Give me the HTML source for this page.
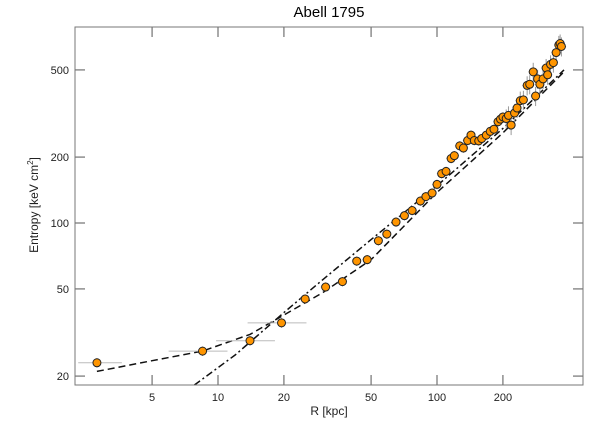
<!DOCTYPE html>
<html><head><meta charset="utf-8"><style>
body{margin:0;background:#fff;}
svg{display:block;font-family:"Liberation Sans",sans-serif;}
</style></head><body>
<svg id="chart" width="605" height="432">
<text x="329" y="17" text-anchor="middle" font-size="15">Abell 1795</text>
<text x="329" y="415" text-anchor="middle" font-size="12" fill="#222">R [kpc]</text>
<text transform="translate(38,205) rotate(-90)" text-anchor="middle" font-size="12" fill="#222">Entropy [keV cm<tspan dy="-5" font-size="8">2</tspan><tspan dy="5">]</tspan></text>
<g id="grid"></g>
<g id="curves"></g>
<g id="errs"></g>
<g id="pts"></g>
<rect x="75" y="27" width="508" height="358" fill="none" stroke="#777" stroke-width="1"/>
</svg>
<script>
const xTicks=[5,10,20,50,100,200];
const yTicks=[20,50,100,200,500];
const radii=[2.8,8.5,14,19.5,25,31,37,43,48,54,59,65,71,77,84,89,95,100,105,110,116,120,127,132,138,143,148,155,160,168,175,182,190,195,200,207,212,218,226,232,240,248,258,265,275,282,288,295,305,315,320,330,340,350,360,365,370];
const entropy=[23,26,29,35,45,51,54,67,68,83,89,101,108,114,126,132,137,150,168,172,197,203,225,220,238,252,238,237,243,252,262,268,290,298,305,300,310,280,318,335,362,365,425,430,490,380,455,430,455,510,475,530,540,600,650,660,640];
const dashR=[2.8,5,8.5,14,20,30,50,100,200,380];
const dashK=[21,23.5,26,31,38,48,68,138,258,490];
const dotdashR=[7.8,12,20,30,50,100,200,380];
const dotdashK=[18.2,25,39,55,84,148,270,500];
const L=75,R=583,T=27,B=385;
function xs(v){return 218+219*Math.log10(v/10);}
function ys(v){return 223-219*Math.log10(v/100);}
const NS="http://www.w3.org/2000/svg";
function mk(t,a,p){const e=document.createElementNS(NS,t);for(const k in a)e.setAttribute(k,a[k]);p.appendChild(e);return e;}
const grid=document.getElementById('grid');
xTicks.forEach(v=>{const x=xs(v);
 const a=mk('line',{x1:x,x2:x,y1:B,y2:B-10,stroke:'#555'},grid);
 
 
 mk('line',{x1:x,x2:x,y1:T,y2:T+10,stroke:'#555'},grid);
 const t=mk('text',{x:x,y:B+16,'text-anchor':'middle','font-size':11,fill:'#222'},grid);t.textContent=v;
 
 
});
yTicks.forEach(v=>{const y=ys(v);
 const a=mk('line',{x1:L,x2:L+10,y1:y,y2:y,stroke:'#555'},grid);
 
 
 mk('line',{x1:R,x2:R-10,y1:y,y2:y,stroke:'#555'},grid);
 const t=mk('text',{x:L-6,y:y+4,'text-anchor':'end','font-size':11,fill:'#222'},grid);t.textContent=v;
 
 
});
const cv=document.getElementById('curves');
function path(rs,ks){return rs.map((r,i)=>(i?'L':'M')+xs(r).toFixed(1)+','+ys(ks[i]).toFixed(1)).join(' ');}
const d1=mk('path',{d:path(dashR,dashK),fill:'none',stroke:'#111','stroke-width':1.5,'stroke-dasharray':'7,4'},cv);


const d2=mk('path',{d:path(dotdashR,dotdashK),fill:'none',stroke:'#111','stroke-width':1.5,'stroke-dasharray':'7,3,2,3'},cv);


const er=document.getElementById('errs'),pt=document.getElementById('pts');
radii.forEach((r,i)=>{const x=xs(r),y=ys(entropy[i]);
 const dx=r<20?r*0.3:r*0.05,dk=entropy[i]*(r>200?0.1:0.05);
 mk('line',{x1:xs(Math.max(r-dx,2.3)),x2:xs(r+dx),y1:y,y2:y,stroke:'#bbb'},er);
 mk('line',{x1:x,x2:x,y1:ys(entropy[i]-dk),y2:ys(entropy[i]+dk),stroke:'#999'},er);
 const c=mk('circle',{cx:x,cy:y,r:4,fill:'#ff9500',stroke:'#222','stroke-width':1},pt);
 
 
});
</script>
</body></html>
